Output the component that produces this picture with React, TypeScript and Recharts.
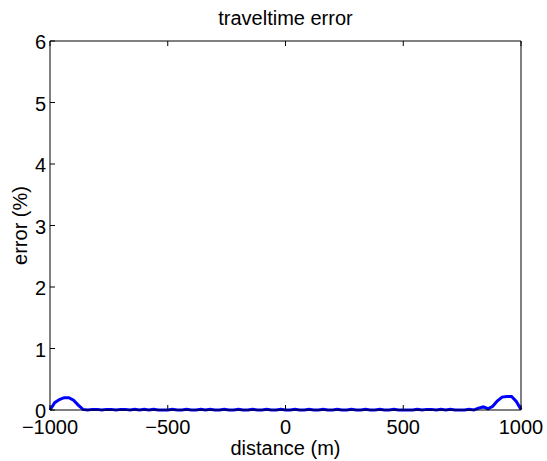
import React from 'react';
import { LineChart, Line, XAxis, YAxis, Label } from 'recharts';

const distances = [
  -1000, -980, -960, -940, -920, -900, -880, -860, -840, -820,
  -800, -780, -760, -740, -720, -700, -680, -660, -640, -620,
  -600, -580, -560, -540, -520, -500, -480, -460, -440, -420,
  -400, -380, -360, -340, -320, -300, -280, -260, -240, -220,
  -200, -180, -160, -140, -120, -100, -80, -60, -40, -20,
  0, 20, 40, 60, 80, 100, 120, 140, 160, 180,
  200, 220, 240, 260, 280, 300, 320, 340, 360, 380,
  400, 420, 440, 460, 480, 500, 520, 540, 560, 580,
  600, 620, 640, 660, 680, 700, 720, 740, 760, 780,
  800, 820, 840, 860, 880, 900, 920, 940, 960, 980, 1000,
];

const errors = [
  0, 0.12, 0.17, 0.2, 0.2, 0.16, 0.08, 0.01, 0, 0.01,
  0.01, 0, 0.01, 0.01, 0, 0.01, 0.01, 0, 0.01, 0,
  0.01, 0, 0.01, 0, 0, 0, 0.01, 0, 0, 0.01,
  0, 0, 0.01, 0, 0.01, 0, 0, 0.01, 0, 0,
  0.01, 0, 0, 0.01, 0, 0, 0.01, 0, 0, 0.01,
  0, 0, 0.01, 0, 0, 0.01, 0, 0, 0.01, 0,
  0, 0.01, 0, 0, 0.01, 0, 0, 0.01, 0, 0,
  0.01, 0, 0, 0.01, 0, 0, 0, 0, 0.01, 0,
  0.01, 0.01, 0, 0.01, 0, 0.01, 0, 0, 0, 0.01,
  0, 0.03, 0.05, 0.02, 0.06, 0.15, 0.21, 0.22, 0.22, 0.14, 0.01,
];

const xTicks = [-1000, -500, 0, 500, 1000];
const yTicks = [0, 1, 2, 3, 4, 5, 6];

const title = 'traveltime error';
const xLabel = 'distance (m)';
const yLabel = 'error (%)';

const data = distances.map((d, i) => ({ d, e: errors[i] }));

const FONT = '"Liberation Sans", Arial, Helvetica, sans-serif';
const FS = 20;
const TICK_LEN = 5;

const fmt = (v: number) => (v < 0 ? '\u2212' + Math.abs(v) : String(v));

const XTick = (props: any) => {
  const { x, y, payload } = props;
  return (
    <g>
      <line x1={x} y1={y} x2={x} y2={y - TICK_LEN} stroke="#000" strokeWidth={1} />
      <text x={x} y={y + 23.5} textAnchor="middle" fontFamily={FONT} fontSize={FS} fill="#000">
        {fmt(payload.value)}
      </text>
    </g>
  );
};

const XTopTick = (props: any) => {
  const { x, y } = props;
  return <line x1={x} y1={y} x2={x} y2={y + TICK_LEN} stroke="#000" strokeWidth={1} />;
};

const YTick = (props: any) => {
  const { x, y, payload } = props;
  return (
    <g>
      <line x1={x} y1={y} x2={x + TICK_LEN} y2={y} stroke="#000" strokeWidth={1} />
      <text x={x - 4} y={y + 8} textAnchor="end" fontFamily={FONT} fontSize={FS} fill="#000">
        {fmt(payload.value)}
      </text>
    </g>
  );
};

const YRTick = (props: any) => {
  const { x, y } = props;
  return <line x1={x} y1={y} x2={x - TICK_LEN} y2={y} stroke="#000" strokeWidth={1} />;
};

export default function App() {
  return (
    <div style={{ position: 'absolute', left: 0, top: 0, background: '#fff' }}>
      <LineChart width={547} height={461} data={data} margin={{ top: 0, right: 0, bottom: 0, left: 0 }}>
        <XAxis
          dataKey="d"
          type="number"
          domain={[-1000, 1000]}
          ticks={xTicks}
          height={51}
          tickSize={0}
          tickMargin={0}
          tickLine={false}
          tick={XTick}
          axisLine={{ stroke: '#000', strokeWidth: 1 }}
          interval={0}
        >
          <Label
            content={(p: any) => {
              const vb = p.viewBox;
              return (
                <text x={vb.x + vb.width / 2} y={vb.y + 45} textAnchor="middle" fontFamily={FONT} fontSize={FS} fill="#000">
                  {xLabel}
                </text>
              );
            }}
          />
        </XAxis>
        <XAxis
          xAxisId="top"
          orientation="top"
          dataKey="d"
          type="number"
          domain={[-1000, 1000]}
          ticks={xTicks}
          height={41}
          tickSize={0}
          tickMargin={0}
          tickLine={false}
          tick={XTopTick}
          axisLine={{ stroke: '#000', strokeWidth: 1 }}
          interval={0}
        >
          <Label
            content={(p: any) => {
              const vb = p.viewBox;
              return (
                <text x={vb.x + vb.width / 2} y={25} textAnchor="middle" fontFamily={FONT} fontSize={FS} fill="#000">
                  {title}
                </text>
              );
            }}
          />
        </XAxis>
        <YAxis
          type="number"
          domain={[0, 6]}
          ticks={yTicks}
          width={50}
          tickSize={0}
          tickMargin={0}
          tickLine={false}
          tick={YTick}
          axisLine={{ stroke: '#000', strokeWidth: 1 }}
          interval={0}
        >
          <Label
            content={(p: any) => {
              const vb = p.viewBox;
              const cy = vb.y + vb.height / 2;
              return (
                <text x={27} y={cy} transform={`rotate(-90, 27, ${cy})`} textAnchor="middle" fontFamily={FONT} fontSize={FS} fill="#000">
                  {yLabel}
                </text>
              );
            }}
          />
        </YAxis>
        <YAxis
          yAxisId="r"
          orientation="right"
          type="number"
          domain={[0, 6]}
          ticks={yTicks}
          width={26}
          tickSize={0}
          tickMargin={0}
          tickLine={false}
          tick={YRTick}
          axisLine={{ stroke: '#000', strokeWidth: 1 }}
          interval={0}
        />
        <Line
          type="linear"
          dataKey="e"
          stroke="#0000ff"
          strokeWidth={3}
          dot={false}
          isAnimationActive={false}
        />
      </LineChart>
    </div>
  );
}
